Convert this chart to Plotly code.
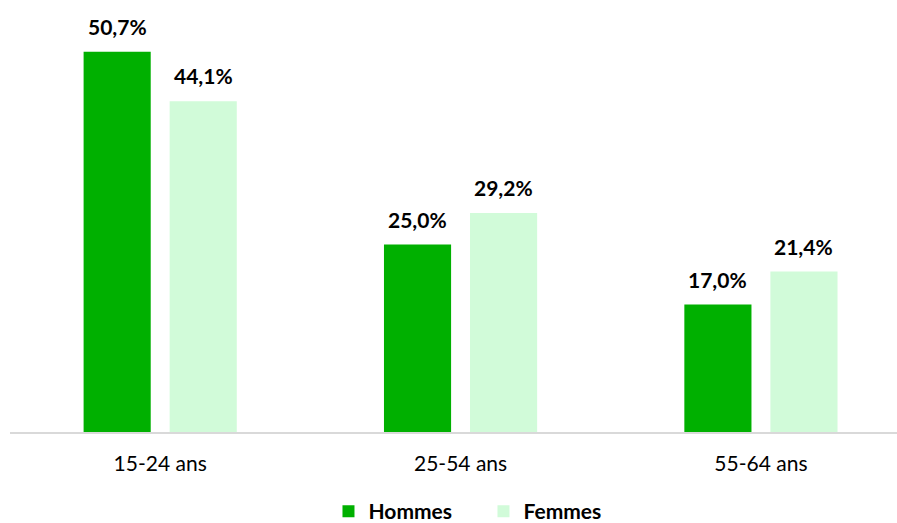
import plotly.graph_objects as go

categories = ["15-24 ans", "25-54 ans", "55-64 ans"]
hommes = [50.7, 25.0, 17.0]
femmes = [44.1, 29.2, 21.4]
series_names = ["Hommes", "Femmes"]
series_colors = ["#00B000", "#D1FBD9"]

def fmt(v):
    return f"{v:.1f}%".replace(".", ",")

font_family = "Lato, Calibri, sans-serif"
label_size = 21

fig = go.Figure()
for name, vals, col in zip(series_names, [hommes, femmes], series_colors):
    fig.add_trace(go.Bar(
        name=name, x=categories, y=vals,
        marker=dict(color=col, line=dict(width=0)),
        cliponaxis=False,
    ))

# value labels above each bar
offsets = [-43, 43]
for vals, dx in zip([hommes, femmes], offsets):
    for c, v in zip(categories, vals):
        fig.add_annotation(
            x=c, y=v, xref="x", yref="y", text=fmt(v), showarrow=False,
            xanchor="center", yanchor="bottom", xshift=dx, yshift=11,
            font=dict(family=font_family, size=label_size, color="#000000", weight="bold"),
        )

fig.update_layout(
    width=897, height=523,
    margin=dict(l=10, r=0, t=0, b=91, autoexpand=False),
    paper_bgcolor="white", plot_bgcolor="white",
    barmode="group", bargap=0.427, bargroupgap=0.22,
    font=dict(family=font_family, size=21, color="#000000"),
    showlegend=True,
    legend=dict(
        orientation="h", xref="container", yref="paper",
        x=0.539, xanchor="center", y=-0.184, yanchor="middle",
        font=dict(family=font_family, size=21, color="#000000", weight="bold"),
        itemwidth=30, tracegroupgap=0, entrywidth=110, entrywidthmode="pixels",
    ),
)
fig.update_xaxes(
    range=[-0.5, 2.453], showgrid=False, zeroline=False,
    showline=True, linecolor="#D9D9D9", linewidth=2,
    ticks="", ticklabelstandoff=12,
    tickfont=dict(family=font_family, size=21, color="#000000"),
)
fig.update_yaxes(
    range=[0, 57.6], showgrid=False, zeroline=False,
    showticklabels=False, showline=False, ticks="",
)

fig.write_html(
    "out.html",
    config={"displayModeBar": False},
    post_script="document.body.style.margin='0';document.body.style.overflow='hidden';",
)
